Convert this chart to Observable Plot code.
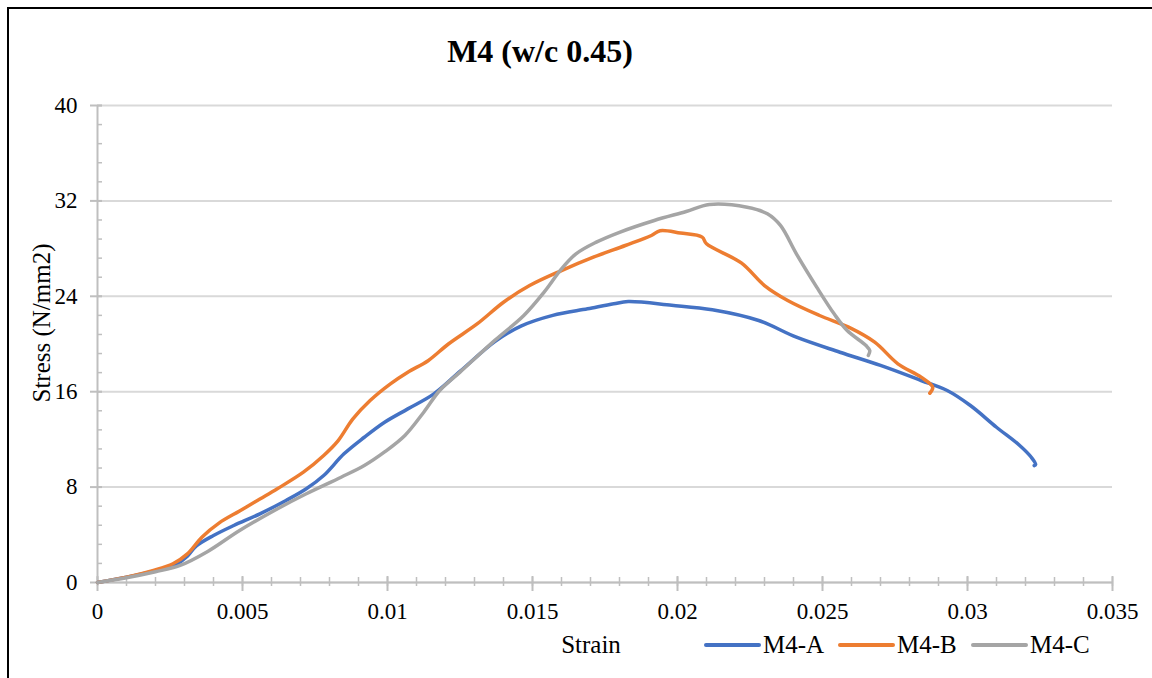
<!DOCTYPE html>
<html>
<head>
<meta charset="utf-8">
<script src="https://cdn.jsdelivr.net/npm/d3@7"></script>
<script src="https://cdn.jsdelivr.net/npm/@observablehq/plot@0.6"></script>
<style>
  html, body { margin: 0; padding: 0; background: #fff; }
  #wrap { position: relative; width: 1152px; height: 678px; overflow: hidden; background: #fff; }
  #wrap svg { display: block; position: absolute; left: 0; top: 0; font-family: "Liberation Serif", serif !important; }
  #wrap svg text { font-family: "Liberation Serif", serif !important; }
  #frame { position: absolute; left: 7px; top: 7px; width: 1200px; height: 720px;
           border-left: 2px solid #000; border-top: 2px solid #000; pointer-events: none; }
</style>
</head>
<body>
<div id="wrap"><div id="frame"></div></div>
<script>
const chartTitle = "M4 (w/c 0.45)";
const xTitle = "Strain";
const yTitle = "Stress (N/mm2)";
const seriesNames = ["M4-A", "M4-B", "M4-C"];
const seriesColors = ["#4472C4", "#ED7D31", "#A5A5A5"];

const xTicks = [0, 0.005, 0.01, 0.015, 0.02, 0.025, 0.03, 0.035];
const yTicks = [0, 8, 16, 24, 32, 40];

const strainA = [0, 0.001, 0.002, 0.0027, 0.0031, 0.0034, 0.0040, 0.0047, 0.0056, 0.0065, 0.0072, 0.0078, 0.0085, 0.0092, 0.0099, 0.0107, 0.0116, 0.0125, 0.0137, 0.0146, 0.0157, 0.0169, 0.0178, 0.0183, 0.0198, 0.0212, 0.0228, 0.0241, 0.0256, 0.0270, 0.0284, 0.0293, 0.0301, 0.0310, 0.0318, 0.0322, 0.03235, 0.0323];
const stressA = [0, 0.45, 1.0, 1.5, 2.2, 3.05, 3.94, 4.78, 5.76, 6.88, 7.86, 8.97, 10.79, 12.18, 13.44, 14.56, 15.82, 17.7, 20.2, 21.5, 22.4, 22.95, 23.37, 23.56, 23.25, 22.87, 21.97, 20.57, 19.31, 18.2, 16.94, 16.1, 14.84, 13.02, 11.49, 10.5, 9.9, 9.8];

const strainB = [0, 0.001, 0.0019, 0.0026, 0.0031, 0.0036, 0.0042, 0.0049, 0.0056, 0.0062, 0.0071, 0.0078, 0.0083, 0.0088, 0.0094, 0.0101, 0.0107, 0.0114, 0.0121, 0.0131, 0.0140, 0.0149, 0.0160, 0.0171, 0.0182, 0.0191, 0.0194, 0.0201, 0.02085, 0.0210, 0.0222, 0.0230, 0.0238, 0.0249, 0.0259, 0.0268, 0.0276, 0.0284, 0.0288, 0.0287];
const stressB = [0, 0.45, 1.0, 1.57, 2.4, 3.8, 5.0, 6.0, 7.0, 7.86, 9.25, 10.65, 11.9, 13.7, 15.26, 16.66, 17.64, 18.6, 20.0, 21.7, 23.5, 24.9, 26.16, 27.28, 28.26, 29.1, 29.5, 29.3, 28.96, 28.4, 26.8, 24.9, 23.65, 22.39, 21.41, 20.15, 18.34, 17.22, 16.38, 15.87];

const strainC = [0, 0.001, 0.002, 0.00285, 0.0038, 0.0049, 0.0061, 0.0072, 0.0084, 0.0092, 0.0099, 0.0106, 0.01125, 0.0118, 0.0125, 0.0137, 0.0147, 0.0154, 0.0160, 0.0165, 0.0172, 0.0180, 0.0192, 0.0203, 0.0211, 0.0224, 0.0231, 0.02355, 0.0241, 0.0248, 0.0254, 0.02585, 0.0265, 0.02663, 0.02658];
const stressC = [0, 0.4, 0.9, 1.43, 2.6, 4.36, 6.04, 7.44, 8.83, 9.81, 10.95, 12.33, 14.28, 16.1, 17.64, 20.3, 22.39, 24.35, 26.3, 27.56, 28.54, 29.37, 30.36, 31.11, 31.7, 31.47, 30.92, 29.94, 27.56, 24.77, 22.53, 21.13, 19.87, 19.45, 19.04];

const toRows = (xs, ys, name) => xs.map((x, i) => ({strain: x, stress: ys[i], series: name}));
const rowsA = toRows(strainA, stressA, seriesNames[0]);
const rowsB = toRows(strainB, stressB, seriesNames[1]);
const rowsC = toRows(strainC, stressC, seriesNames[2]);

const xMinor = d3.range(0, 36).map(i => i / 1000);
const yMinor = d3.range(0, 26).map(i => +(i * 1.6).toFixed(1));

const serif = "Liberation Serif, serif";
const axisGray = "#bfbfbf";

const chart = Plot.plot({
  width: 1152,
  height: 678,
  marginLeft: 97,
  marginRight: 40,
  marginTop: 105,
  marginBottom: 96,
  x: {domain: [0, 0.035], label: null},
  y: {domain: [0, 40], label: null},
  style: {fontFamily: serif, fontSize: "23px", color: "#000", background: "#fff", overflow: "visible"},
  marks: [
    Plot.gridY(yTicks, {stroke: "#d9d9d9", strokeOpacity: 1, strokeWidth: 2}),
    Plot.ruleY([0], {stroke: axisGray, strokeWidth: 2}),
    Plot.ruleX([0], {stroke: axisGray, strokeWidth: 2}),
    Plot.axisY(yTicks, {tickSize: 12, dx: 5, fill: "none", label: null, stroke: axisGray, strokeWidth: 2}),
    Plot.axisY(yMinor, {tickSize: 5, dx: 5, fill: "none", label: null, stroke: axisGray, strokeWidth: 1.5}),
    Plot.axisY(yTicks, {tickSize: 0, tickPadding: 20, label: null, fill: "#000", fontSize: 23, tickFormat: d => String(d)}),
    Plot.axisX(xTicks, {tickSize: 15, dy: -6, fill: "none", label: null, stroke: axisGray, strokeWidth: 2}),
    Plot.axisX(xMinor, {tickSize: 9, dy: -5, fill: "none", label: null, stroke: axisGray, strokeWidth: 1.5}),
    Plot.axisX(xTicks, {tickSize: 0, tickPadding: 20, label: null, fill: "#000", fontSize: 23, tickFormat: d => String(d)}),
    Plot.line(rowsA, {x: "strain", y: "stress", stroke: seriesColors[0], strokeWidth: 3.5, curve: "catmull-rom"}),
    Plot.line(rowsB, {x: "strain", y: "stress", stroke: seriesColors[1], strokeWidth: 3.5, curve: "catmull-rom"}),
    Plot.line(rowsC, {x: "strain", y: "stress", stroke: seriesColors[2], strokeWidth: 3.5, curve: "catmull-rom"})
  ]
});

const wrap = document.getElementById("wrap");
wrap.insertBefore(chart, wrap.firstChild);

const svg = d3.select(chart);
const g = svg.append("g").attr("font-family", serif).attr("fill", "#000");

g.append("text").attr("x", 540).attr("y", 62).attr("text-anchor", "middle")
  .attr("font-size", 32).attr("font-weight", "bold").text(chartTitle);

g.append("text").attr("transform", "translate(50,323) rotate(-90)").attr("text-anchor", "middle")
  .attr("font-size", 25).text(yTitle);

g.append("text").attr("x", 591).attr("y", 653).attr("text-anchor", "middle")
  .attr("font-size", 25).text(xTitle);

const legendX = [706, 840, 973];
seriesNames.forEach((name, i) => {
  g.append("line").attr("x1", legendX[i]).attr("x2", legendX[i] + 53)
    .attr("y1", 645).attr("y2", 645)
    .attr("stroke", seriesColors[i]).attr("stroke-width", 4).attr("stroke-linecap", "round");
  g.append("text").attr("x", legendX[i] + 57).attr("y", 653).attr("text-anchor", "start")
    .attr("font-size", 25).text(name);
});
</script>
</body>
</html>
